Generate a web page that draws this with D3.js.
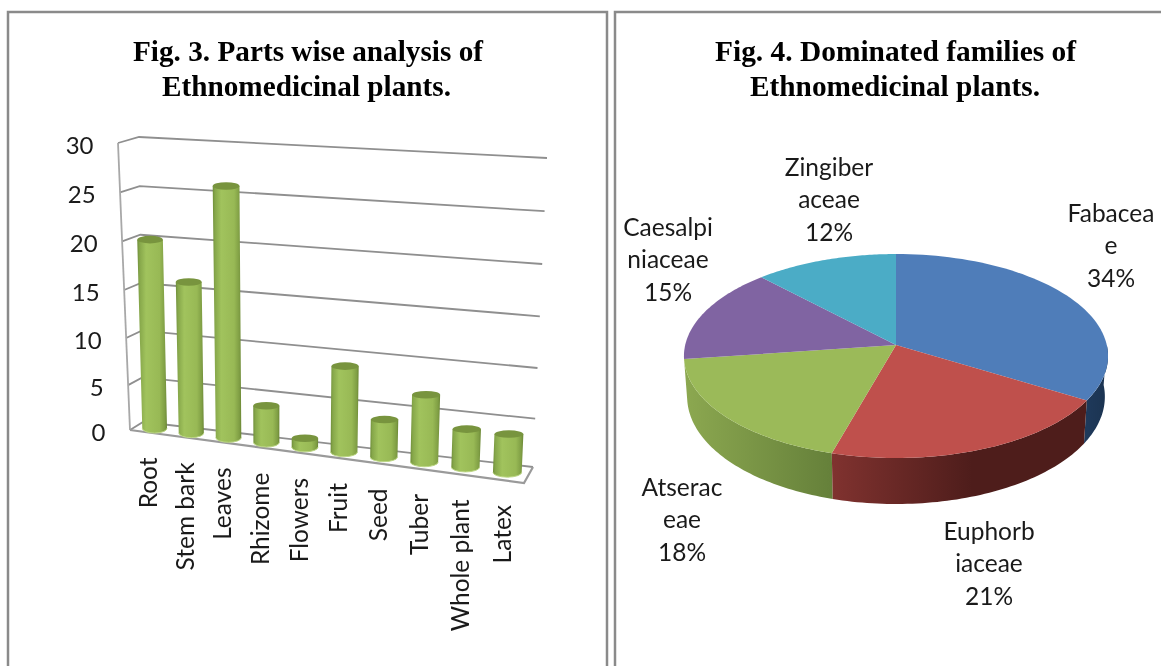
<!DOCTYPE html>
<html>
<head>
<meta charset="utf-8">
<title>Fig. 3 and Fig. 4</title>
<script src="https://cdnjs.cloudflare.com/ajax/libs/d3/7.8.5/d3.min.js"></script>
<style>
  html, body { margin: 0; padding: 0; background: #fff; }
  svg { display: block; filter: blur(0.4px); }
  text { font-family: Lato, "Open Sans", sans-serif; fill: #1a1a1a; }
  .title { font-family: "Liberation Serif", serif; font-weight: bold; fill: #000; }
</style>
</head>
<body>
<div id="chart"></div>
<script>
// Fig. 3 data
const parts = ["Root", "Stem bark", "Leaves", "Rhizome", "Flowers", "Fruit", "Seed", "Tuber", "Whole plant", "Latex"];
const partValues = [20, 16, 26, 4, 1, 9, 4, 7, 4, 4];
const partTicks = [0, 5, 10, 15, 20, 25, 30];

// Fig. 4 data (labels show them rounded)
const families = ["Fabaceae", "Euphorbiaceae", "Atseraceae", "Caesalpiniaceae", "Zingiberaceae"];
const familyShares = [33.7, 20.7, 18.4, 15.1, 12.1];
const familyLabelLines = [["Fabacea", "e", "34%"], ["Euphorb", "iaceae", "21%"], ["Atserac", "eae", "18%"], ["Caesalpi", "niaceae", "15%"], ["Zingiber", "aceae", "12%"]];

const W = 1161, H = 666;
const svg = d3.select("#chart").append("svg").attr("width", W).attr("height", H);
const defs = svg.append("defs");

// panels, open at the bottom
[[8, 607], [615, 1163]].forEach(([l, r]) => {
  svg.append("path")
    .attr("d", `M${l},${H + 5}V12H${r}V${H + 5}`)
    .attr("fill", "none").attr("stroke", "#8a8a8a").attr("stroke-width", 2.5);
});

// titles
function title(str, cx, y, len) {
  svg.append("text").attr("class", "title")
    .attr("x", cx).attr("y", y)
    .attr("text-anchor", "middle")
    .attr("font-size", 29)
    .attr("textLength", len).attr("lengthAdjust", "spacingAndGlyphs")
    .text(str);
}
title("Fig. 3. Parts wise analysis of", 308, 60.5, 350);
title("Ethnomedicinal plants.", 306.5, 95.5, 289);
title("Fig. 4. Dominated families of", 895.5, 60.5, 361);
title("Ethnomedicinal plants.", 895, 95.5, 290);

// --- Fig. 3: 3D box, u = along categories, t = height, d = depth (0 front, 1 back) ---
const uScale = d3.scaleBand().domain(parts).range([0, 1]).paddingInner(0.32).paddingOuter(0.16);
const tScale = d3.scalePow().exponent(1.036).domain([0, 30]).range([0, 1]);
const boxLow = { fl: [130, 430], bl: [143, 422], br: [533, 467], fr: [524, 483] };
const boxHigh = { fl: [118, 143], bl: [139, 137], br: [547, 158], fr: [538, 172] };
const uPersp = 0.08;

function corner(name, t) {
  const a = boxLow[name], b = boxHigh[name];
  return [a[0] + (b[0] - a[0]) * t, a[1] + (b[1] - a[1]) * t];
}
function project(u, value, d) {
  const t = tScale(value);
  const lerp = (p, q, k) => [p[0] + (q[0] - p[0]) * k, p[1] + (q[1] - p[1]) * k];
  const left = lerp(corner("fl", t), corner("bl", t), d);
  const right = lerp(corner("fr", t), corner("br", t), d);
  // categories get wider towards the right, the chart is seen from that side
  return lerp(left, right, u * (1 - uPersp) / (1 - uPersp * u));
}

const chart3 = svg.append("g");
const line = d3.line();

// gridlines
partTicks.forEach(v => {
  chart3.append("path")
    .attr("d", line([project(0, v, 0), project(0, v, 1), project(1, v, 1)]))
    .attr("fill", "none").attr("stroke", "#8f8f8f").attr("stroke-width", 1.8);
});
// wall edge and floor
chart3.append("path")
  .attr("d", line([project(0, 30, 0), project(0, 0, 0)]))
  .attr("fill", "none").attr("stroke", "#a8a8a8").attr("stroke-width", 1.8);
chart3.append("path")
  .attr("d", line([project(0, 0, 0), project(1, 0, 0), project(1, 0, 1)]))
  .attr("fill", "none").attr("stroke", "#9a9a9a").attr("stroke-width", 2.2);

// y tick labels
chart3.selectAll("text.tick").data(partTicks).enter().append("text")
  .attr("class", "tick")
  .attr("x", d => project(0, d, 0)[0] - 24.5)
  .attr("y", d => project(0, d, 0)[1] + 1)
  .attr("text-anchor", "end")
  .attr("dominant-baseline", "central")
  .attr("font-size", 24)
  .text(d => d);

// cylinder shading
const barGrad = defs.append("linearGradient").attr("id", "barGrad");
[[0, "#6f8e3a"], [0.08, "#86a74a"], [0.3, "#a1c35d"], [0.75, "#98b955"], [0.93, "#7f9e44"], [1, "#6a8634"]].forEach(s => {
  barGrad.append("stop").attr("offset", s[0]).attr("stop-color", s[1]);
});

const ry = 3.8;
parts.forEach((p, i) => {
  const u0 = uScale(p), u1 = u0 + uScale.bandwidth(), um = (u0 + u1) / 2;
  const v = partValues[i];
  const yTop = project(um, v, 0.5)[1];
  const yBase = project(um, 0, 0.5)[1];
  const xlT = project(u0, v, 0.5)[0], xrT = project(u1, v, 0.5)[0];
  const xlB = project(u0, 0, 0.5)[0], xrB = project(u1, 0, 0.5)[0];
  const rxT = (xrT - xlT) / 2, rxB = (xrB - xlB) / 2;
  const g = chart3.append("g");
  g.append("path")
    .attr("d", `M${xlT},${yTop}L${xlB},${yBase}A${rxB},${ry + 1} 0 0 0 ${xrB},${yBase}L${xrT},${yTop}Z`)
    .attr("fill", "url(#barGrad)");
  g.append("path")
    .attr("d", `M${xlB},${yBase}A${rxB},${ry + 1} 0 0 0 ${xrB},${yBase}`)
    .attr("fill", "none").attr("stroke", "#bcd685").attr("stroke-width", 1);
  g.append("ellipse")
    .attr("cx", (xlT + xrT) / 2).attr("cy", yTop)
    .attr("rx", rxT).attr("ry", ry)
    .attr("fill", "#78943e");
});

// category labels, hanging below the front edge of the floor
chart3.selectAll("text.cat").data(parts).enter().append("text")
  .attr("class", "cat")
  .attr("transform", d => {
    const pt = project(uScale(d) + uScale.bandwidth() / 2, 0, 0);
    return `translate(${pt[0] - 1},${pt[1] + 25}) rotate(-90)`;
  })
  .attr("text-anchor", "end")
  .attr("dominant-baseline", "central")
  .attr("font-size", 24.5)
  .text(d => d);

// --- Fig. 4: tilted pie, angles from d3.pie, outline through a perspective projection ---
const pie = d3.pie().sort(null).value(d => d)(familyShares);
const sliceColors = ["#4f7db9", "#bf504c", "#9bba59", "#8064a2", "#4bacc6"];
const sideStops = [
  [[0, "#1f3a5c"], [1, "#1b3350"]],
  [[0, "#80322f"], [0.55, "#4e1d1b"], [1, "#4e1d1b"]],
  [[0, "#8ca850"], [1, "#65803a"]],
  [[0, "#4d3b62"], [1, "#4d3b62"]],
  [[0, "#2d6a7a"], [1, "#2d6a7a"]]
];
const pieX = 896, pieY = 345, pieR = 210.8, pieQ = 100.8, pieK = 0.108;

function topPoint(a) {
  const w = 1 + pieK * Math.cos(a);
  return [pieX + pieR * Math.sin(a) / w, pieY - pieQ * Math.cos(a) / w];
}
function bottomPoint(a) {
  const p = topPoint(a);
  return [pieX + (p[0] - pieX) * 0.985, p[1] + 40 - 6 * Math.cos(a)];
}
const sample = (a0, a1) => d3.range(0, 61).map(i => a0 + (a1 - a0) * i / 60);

const chart4 = svg.append("g");

// walls, only the part that faces the viewer
const sideOrder = [0, 2, 1];
sideOrder.forEach(i => {
  const s = pie[i];
  const a0 = Math.max(s.startAngle, Math.PI / 2);
  const a1 = Math.min(s.endAngle, 3 * Math.PI / 2);
  if (a1 <= a0) return;
  const angles = sample(a0, a1);
  const outline = angles.map(topPoint).concat(angles.slice().reverse().map(bottomPoint));
  const gid = "side" + i;
  const grad = defs.append("linearGradient").attr("id", gid);
  sideStops[i].forEach(st => grad.append("stop").attr("offset", st[0]).attr("stop-color", st[1]));
  chart4.append("path")
    .attr("d", line(outline) + "Z")
    .attr("fill", `url(#${gid})`);
});

// top faces
pie.forEach((s, i) => {
  const pts = [[pieX, pieY]].concat(sample(s.startAngle, s.endAngle).map(topPoint));
  chart4.append("path")
    .attr("d", line(pts) + "Z")
    .attr("fill", sliceColors[i]);
});

// data labels
const labelPos = [[1111, 212], [989, 530], [682, 486], [668, 226], [829, 166]];
const lineGap = 32.5;
familyLabelLines.forEach((lines, i) => {
  lines.forEach((txt, j) => {
    chart4.append("text")
      .attr("x", labelPos[i][0])
      .attr("y", labelPos[i][1] + j * lineGap)
      .attr("text-anchor", "middle")
      .attr("dominant-baseline", "central")
      .attr("font-size", 24.5)
      .text(txt);
  });
});
</script>
</body>
</html>
